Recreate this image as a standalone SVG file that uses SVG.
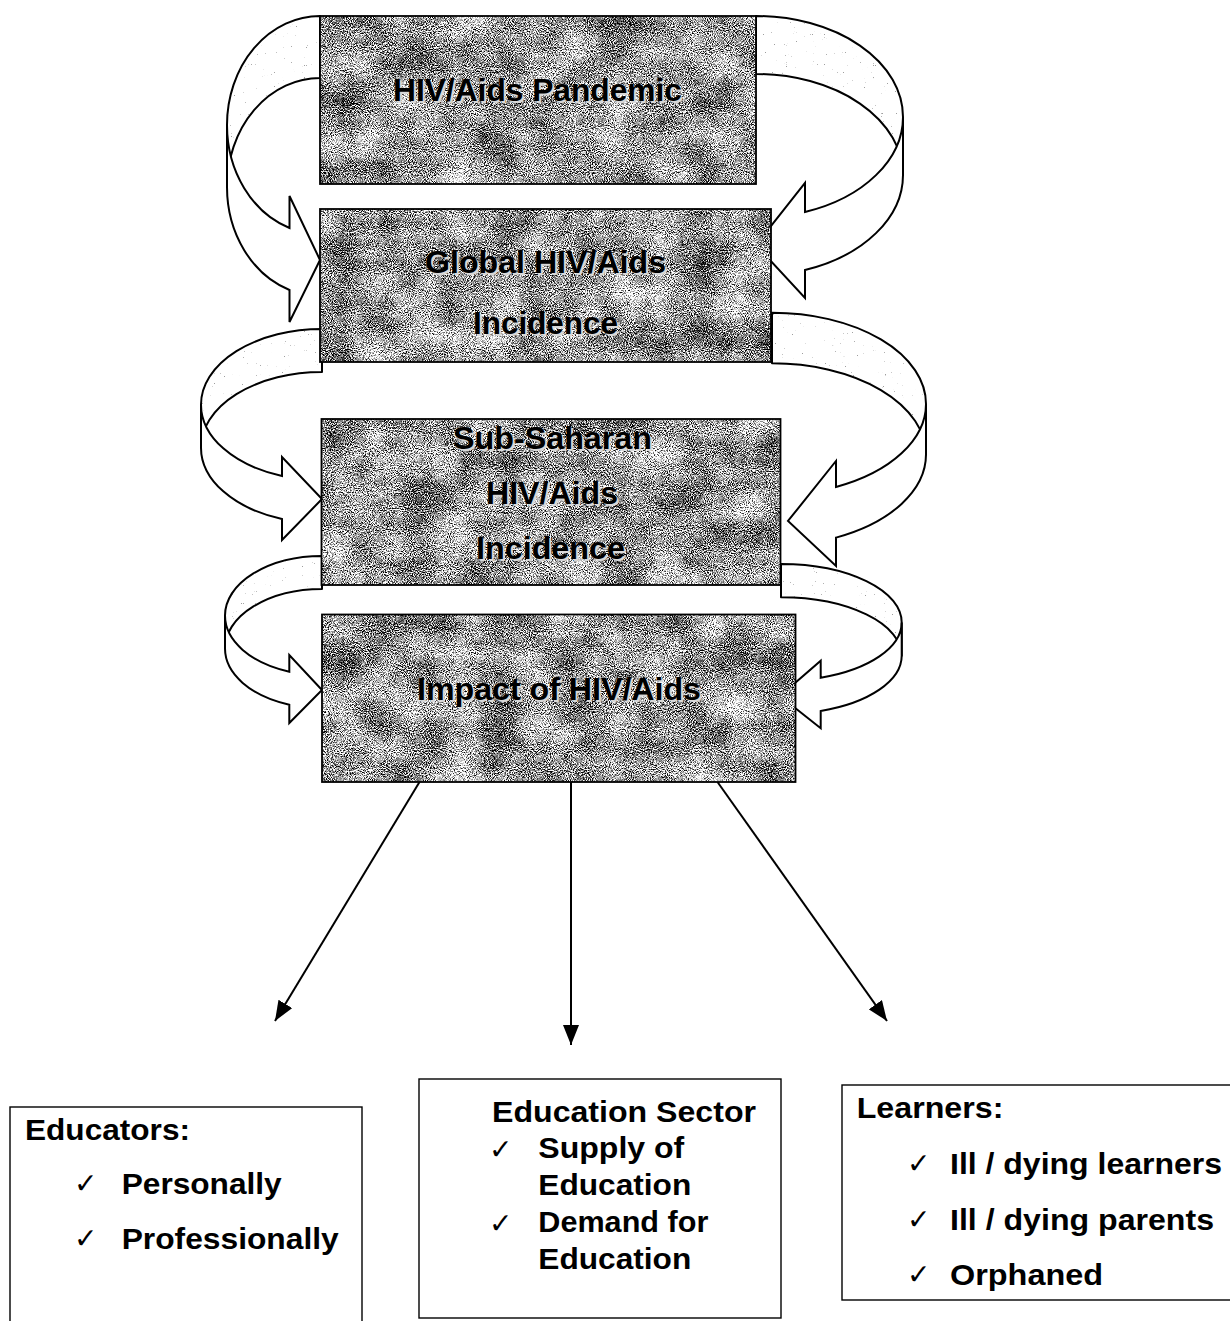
<svg xmlns="http://www.w3.org/2000/svg" width="1230" height="1321" viewBox="0 0 1230 1321">
  <defs>
    <!-- grainy granite texture used for the four stage boxes -->
    <filter id="granite" x="0" y="0" width="1" height="1" color-interpolation-filters="sRGB">
      <feTurbulence type="fractalNoise" baseFrequency="0.95" numOctaves="2" seed="7" result="fineRaw"/>
      <feColorMatrix in="fineRaw" type="matrix" values="1 0 0 0 0  1 0 0 0 0  1 0 0 0 0  0 0 0 0 1" result="fine"/>
      <feTurbulence type="fractalNoise" baseFrequency="0.025" numOctaves="3" seed="11" result="coarseRaw"/>
      <feColorMatrix in="coarseRaw" type="matrix" values="1 0 0 0 0  1 0 0 0 0  1 0 0 0 0  0 0 0 0 1" result="coarse"/>
      <feComposite in="fine" in2="coarse" operator="arithmetic" k1="0" k2="1" k3="0.3" k4="-0.15" result="mix"/>
      <feColorMatrix in="mix" type="matrix" values="3.2 0 0 0 -0.99  3.2 0 0 0 -0.99  3.2 0 0 0 -0.99  0 0 0 0 1" result="grey"/>
      <feComposite in="grey" in2="SourceAlpha" operator="in"/>
    </filter>
    <!-- faint speckle on the shaded back face of the ribbon arrows -->
    <filter id="speck" x="0" y="0" width="1" height="1" color-interpolation-filters="sRGB">
      <feTurbulence type="fractalNoise" baseFrequency="0.9" numOctaves="2" seed="5" result="n"/>
      <feColorMatrix in="n" type="matrix" values="0 0 0 0 0.62  0 0 0 0 0.62  0 0 0 0 0.62  -18 0 0 0 4.3" result="dots"/>
      <feFlood flood-color="#ffffff" result="white"/>
      <feMerge result="m"><feMergeNode in="white"/><feMergeNode in="dots"/></feMerge>
      <feComposite in="m" in2="SourceAlpha" operator="in"/>
    </filter>
    <marker id="head" viewBox="0 0 20 16" refX="20" refY="8" markerWidth="20" markerHeight="16" markerUnits="userSpaceOnUse" orient="auto">
      <path d="M0,0 L20,8 L0,16 z" fill="#000"/>
    </marker>
    <style>
      .stage-fill { fill: #999; filter: url(#granite); }
      .stage-edge { fill: none; stroke: #000; stroke-width: 1.8; }
      .back-fill { fill: #fff; filter: url(#speck); }
      .back-edge { fill: none; stroke: #000; stroke-width: 2; stroke-linejoin: round; }
      .front { fill: #fff; stroke: #000; stroke-width: 2; stroke-linejoin: miter; }
      .link { stroke: #000; stroke-width: 2; fill: none; marker-end: url(#head); }
      .stage-text { font-family: "Liberation Sans", Arial, sans-serif; font-weight: bold; font-size: 31px; fill: #000; }
      .stage-shadow { font-family: "Liberation Sans", Arial, sans-serif; font-weight: bold; font-size: 31px; fill: #d8d8d8; }
      .panel { fill: #fff; stroke: #000; stroke-width: 1.4; }
      .label { font-family: "Liberation Sans", Arial, sans-serif; font-weight: bold; font-size: 30px; fill: #000; }
      .tick { font-family: "DejaVu Sans", sans-serif; font-size: 28px; fill: #000; }
    </style>
  </defs>

  <rect width="1230" height="1321" fill="#fff"/>

  <!-- ribbon arrows between stages, and the three impact arrows -->
  <g id="connectors">
    <!-- left ribbon: pandemic -> global -->
    <path class="back-fill" d="M320,16 A93,109 0 0 0 227,125 L227,187 A93,109 0 0 1 320,78 Z"/>
    <path class="back-edge" d="M320,16 A93,109 0 0 0 227,125 L227,187 A93,109 0 0 1 320,78 Z"/>
    <path class="front" d="M227,125 A93,109 0 0 0 289.5,228 L289.5,196 L320,260 L289.5,322 L289.5,290 A93,109 0 0 1 227,187 Z"/>

    <!-- right ribbon: pandemic -> global -->
    <path class="back-fill" d="M756,16 A147,100.9 0 0 1 903,116.9 L903,174.9 A147,100.9 0 0 0 756,74 Z"/>
    <path class="back-edge" d="M756,16 A147,100.9 0 0 1 903,116.9 L903,174.9 A147,100.9 0 0 0 756,74 Z"/>
    <path class="front" d="M903,116.9 A147,100.9 0 0 1 805,212 L805,183 L756,245 L805,298 L805,270 A147,100.9 0 0 0 903,174.9 Z"/>

    <!-- left ribbon: global -> sub-saharan -->
    <path class="back-fill" d="M322,329 A121,75.6 0 0 0 201,404.6 L201,447.6 A121,75.6 0 0 1 322,372 Z"/>
    <path class="back-edge" d="M322,329 A121,75.6 0 0 0 201,404.6 L201,447.6 A121,75.6 0 0 1 322,372 Z"/>
    <path class="front" d="M201,404.6 A121,75.6 0 0 0 282,476 L282,457 L322,499 L282,540 L282,519 A121,75.6 0 0 1 201,447.6 Z"/>

    <!-- right ribbon: global -> sub-saharan -->
    <path class="back-fill" d="M772,312.7 A154,91.3 0 0 1 926,404 L926,454.6 A154,91.3 0 0 0 772,363.3 Z"/>
    <path class="back-edge" d="M772,312.7 A154,91.3 0 0 1 926,404 L926,454.6 A154,91.3 0 0 0 772,363.3 Z"/>
    <path class="front" d="M926,404 A154,91.3 0 0 1 836,487 L836,461 L788,521 L836,566 L836,537.6 A154,91.3 0 0 0 926,454.6 Z"/>

    <!-- left ribbon: sub-saharan -> impact -->
    <path class="back-fill" d="M322,556 A97,59.6 0 0 0 225,615.6 L225,648.6 A97,59.6 0 0 1 322,589 Z"/>
    <path class="back-edge" d="M322,556 A97,59.6 0 0 0 225,615.6 L225,648.6 A97,59.6 0 0 1 322,589 Z"/>
    <path class="front" d="M225,615.6 A97,59.6 0 0 0 289.3,671.7 L289.3,655 L322,690 L289.3,723 L289.3,704.7 A97,59.6 0 0 1 225,648.6 Z"/>

    <!-- right ribbon: sub-saharan -> impact -->
    <path class="back-fill" d="M781,564 A120.7,58.5 0 0 1 901.7,622.5 L901.7,655.8 A120.7,58.5 0 0 0 781,597.3 Z"/>
    <path class="back-edge" d="M781,564 A120.7,58.5 0 0 1 901.7,622.5 L901.7,655.8 A120.7,58.5 0 0 0 781,597.3 Z"/>
    <path class="front" d="M901.7,622.5 A120.7,58.5 0 0 1 820.7,677.75 L820.7,660.7 L780,696 L820.7,728.3 L820.7,711.05 A120.7,58.5 0 0 0 901.7,655.8 Z"/>

    <!-- impact fans out to the three groups -->
    <line class="link" x1="419.5" y1="782" x2="275" y2="1021"/>
    <line class="link" x1="571" y1="782" x2="571" y2="1045"/>
    <line class="link" x1="717.5" y1="782" x2="887" y2="1021"/>
  </g>

  <g id="pandemic">
    <rect class="stage-fill" x="320" y="16" width="436" height="168"/>
    <rect class="stage-edge" x="320" y="16" width="436" height="168"/>
    <text class="stage-shadow" x="395" y="103" textLength="289" lengthAdjust="spacingAndGlyphs">HIV/Aids Pandemic</text>
    <text class="stage-text" x="393" y="101" textLength="289" lengthAdjust="spacingAndGlyphs">HIV/Aids Pandemic</text>
  </g>

  <g id="global-incidence">
    <rect class="stage-fill" x="320" y="209" width="451" height="153"/>
    <rect class="stage-edge" x="320" y="209" width="451" height="153"/>
    <text class="stage-shadow" x="427" y="275" textLength="241" lengthAdjust="spacingAndGlyphs">Global HIV/Aids</text>
    <text class="stage-text" x="425" y="273" textLength="241" lengthAdjust="spacingAndGlyphs">Global HIV/Aids</text>
    <text class="stage-shadow" x="475" y="336" textLength="145" lengthAdjust="spacingAndGlyphs">Incidence</text>
    <text class="stage-text" x="473" y="334" textLength="145" lengthAdjust="spacingAndGlyphs">Incidence</text>
  </g>

  <g id="subsaharan-incidence">
    <rect class="stage-fill" x="321.5" y="419" width="459" height="166"/>
    <rect class="stage-edge" x="321.5" y="419" width="459" height="166"/>
    <text class="stage-shadow" x="455" y="451" textLength="199" lengthAdjust="spacingAndGlyphs">Sub-Saharan</text>
    <text class="stage-text" x="453" y="449" textLength="199" lengthAdjust="spacingAndGlyphs">Sub-Saharan</text>
    <text class="stage-shadow" x="488" y="506" textLength="132" lengthAdjust="spacingAndGlyphs">HIV/Aids</text>
    <text class="stage-text" x="486" y="504" textLength="132" lengthAdjust="spacingAndGlyphs">HIV/Aids</text>
    <text class="stage-shadow" x="478" y="561" textLength="149" lengthAdjust="spacingAndGlyphs">Incidence</text>
    <text class="stage-text" x="476" y="559" textLength="149" lengthAdjust="spacingAndGlyphs">Incidence</text>
  </g>

  <g id="impact">
    <rect class="stage-fill" x="322" y="614.5" width="473.5" height="167.5"/>
    <rect class="stage-edge" x="322" y="614.5" width="473.5" height="167.5"/>
    <text class="stage-shadow" x="419" y="702" textLength="284" lengthAdjust="spacingAndGlyphs">Impact of HIV/Aids</text>
    <text class="stage-text" x="417" y="700" textLength="284" lengthAdjust="spacingAndGlyphs">Impact of HIV/Aids</text>
  </g>

  <g id="educators">
    <rect class="panel" x="10" y="1107" width="352" height="240"/>
    <text class="label" x="25" y="1140" textLength="165" lengthAdjust="spacingAndGlyphs">Educators:</text>
    <text class="tick" x="74" y="1193">✓</text>
    <text class="label" x="121.7" y="1194" textLength="160" lengthAdjust="spacingAndGlyphs">Personally</text>
    <text class="tick" x="74" y="1248">✓</text>
    <text class="label" x="121.7" y="1249" textLength="217" lengthAdjust="spacingAndGlyphs">Professionally</text>
  </g>

  <g id="education-sector">
    <rect class="panel" x="419" y="1079" width="362" height="239"/>
    <text class="label" x="492" y="1122" textLength="264" lengthAdjust="spacingAndGlyphs">Education Sector</text>
    <text class="tick" x="489" y="1159">✓</text>
    <text class="label" x="538.3" y="1158" textLength="146" lengthAdjust="spacingAndGlyphs">Supply of</text>
    <text class="label" x="538.3" y="1195" textLength="153" lengthAdjust="spacingAndGlyphs">Education</text>
    <text class="tick" x="489" y="1233">✓</text>
    <text class="label" x="538.3" y="1232" textLength="170" lengthAdjust="spacingAndGlyphs">Demand for</text>
    <text class="label" x="538.3" y="1269" textLength="153" lengthAdjust="spacingAndGlyphs">Education</text>
  </g>

  <g id="learners">
    <rect class="panel" x="842" y="1085" width="400" height="215"/>
    <text class="label" x="856.7" y="1118" textLength="146.7" lengthAdjust="spacingAndGlyphs">Learners:</text>
    <text class="tick" x="907" y="1173">✓</text>
    <text class="label" x="950" y="1174" textLength="272" lengthAdjust="spacingAndGlyphs">Ill / dying learners</text>
    <text class="tick" x="907" y="1229">✓</text>
    <text class="label" x="950" y="1230" textLength="264" lengthAdjust="spacingAndGlyphs">Ill / dying parents</text>
    <text class="tick" x="907" y="1284">✓</text>
    <text class="label" x="950" y="1285" textLength="153" lengthAdjust="spacingAndGlyphs">Orphaned</text>
  </g>
</svg>
